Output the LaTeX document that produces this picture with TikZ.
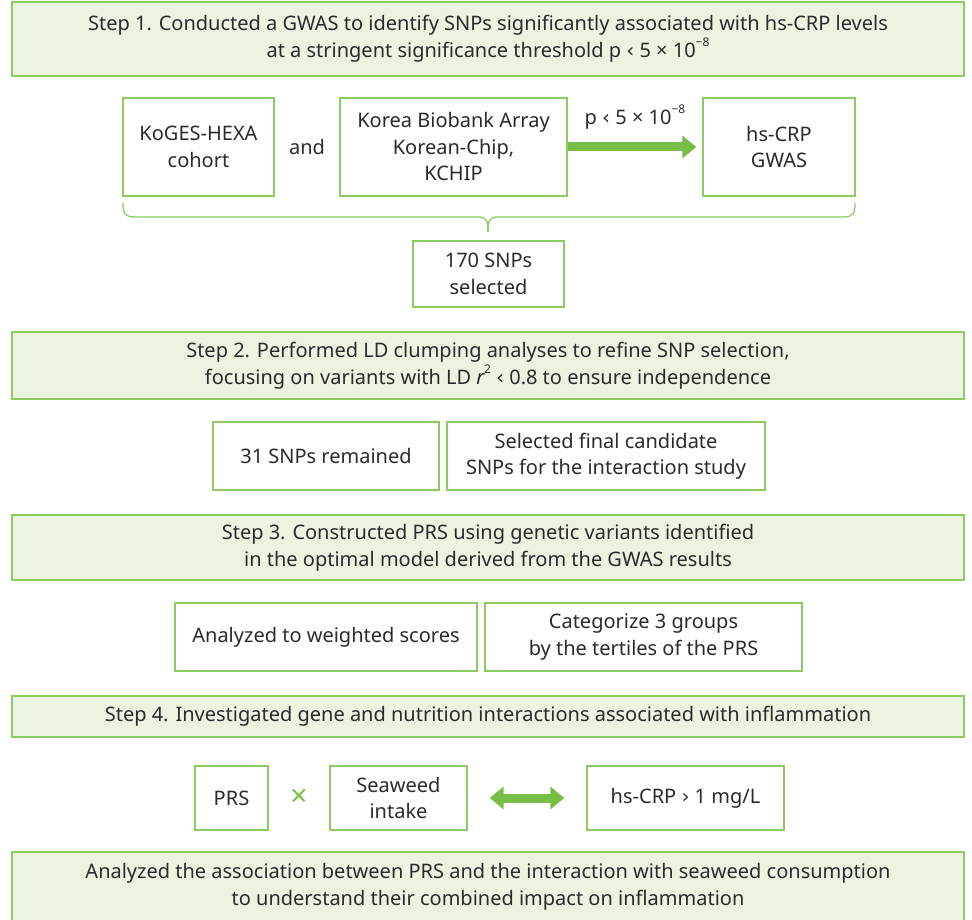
\documentclass[tikz,border=0pt]{standalone}
\usepackage{fontspec}
\setmainfont{Noto Sans}
\newfontfamily\symfont{DejaVu Sans}
\usetikzlibrary{arrows.meta}
\definecolor{bgreen}{HTML}{8DCB62}
\definecolor{agreen}{HTML}{78BE46}
\definecolor{fgreen}{HTML}{EAF4E1}
\definecolor{txt}{HTML}{2B2B2B}
\newcommand{\lessmark}{{\symfont\fontsize{20}{20}\selectfont ‹}}
\newcommand{\moremark}{{\symfont\fontsize{20}{20}\selectfont ›}}
\newcommand{\supx}[1]{\raisebox{0.55em}{\fontsize{12}{12}\selectfont #1}}
\tikzset{
  box/.style={draw=bgreen, line width=1.3pt, fill=white, text=txt, align=center, inner sep=0pt},
  stepbox/.style={draw=bgreen, line width=1.3pt, fill=fgreen, text=txt, align=center, inner sep=0pt, minimum width=952pt},
  fat/.style={draw=agreen, line width=9pt},
}
\begin{document}
\begin{tikzpicture}[x=1pt,y=-1pt,font=\fontsize{20}{26.5}\selectfont]
\useasboundingbox (0,0) rectangle (972,920);
\node[stepbox, minimum height=74pt] (s1) at (488,39) {Step 1. Conducted a GWAS to identify SNPs significantly associated with hs-CRP levels\\at a stringent significance threshold p \lessmark{} 5 × 10\supx{−8}};
\node[box, minimum width=151pt, minimum height=98pt] (kog) at (198.5,147) {KoGES-HEXA\\cohort};
\node[text=txt] (and) at (307,147) {and};
\node[box, minimum width=227pt, minimum height=98pt] (kba) at (453.5,147) {Korea Biobank Array\\Korean-Chip,\\KCHIP};
\node[box, minimum width=152pt, minimum height=98pt] (gwas) at (779,147) {hs-CRP\\GWAS};
\draw[fat, -{Triangle[length=14pt,width=22pt]}, shorten >=6pt] (kba.east) -- (gwas.west) node[midway, above=10pt, text=txt] (pl) {p \lessmark{} 5 × 10\supx{−8}};
\coordinate (bl) at (123,203);
\coordinate (br) at (855,203);
\coordinate (bt) at (488,232);
\draw[draw=bgreen, line width=1.3pt] (bl) .. controls (123,214) and (125,217) .. (135,217) -- (478,217) .. controls (486,217) and (488,220) .. (bt);
\draw[draw=bgreen, line width=1.3pt] (br) .. controls (855,214) and (853,217) .. (843,217) -- (498,217) .. controls (490,217) and (488,220) .. (bt);
\node[box, minimum width=151pt, minimum height=66pt] (snp170) at (488.5,274) {170 SNPs\\selected};
\node[stepbox, minimum height=67pt] (s2) at (488,365.5) {Step 2. Performed LD clumping analyses to refine SNP selection,\\focusing on variants with LD \textit{r}\kern-1pt\supx{2} \lessmark{} 0.8 to ensure independence};
\node[box, minimum width=226pt, minimum height=68pt] (snp31) at (326,456) {31 SNPs remained};
\node[box, minimum width=318pt, minimum height=68pt] (sel) at (606,456) {Selected final candidate\\SNPs for the interaction study};
\node[stepbox, minimum height=65pt] (s3) at (488,547.5) {Step 3. Constructed PRS using genetic variants identified\\in the optimal model derived from the GWAS results};
\node[box, minimum width=302pt, minimum height=68pt] (ws) at (326,637) {Analyzed to weighted scores};
\node[box, minimum width=317pt, minimum height=68pt] (cat) at (643.5,637) {Categorize 3 groups\\by the tertiles of the PRS};
\node[stepbox, minimum height=41pt] (s4) at (488,716.5) {Step 4. Investigated gene and nutrition interactions associated with inflammation};
\node[box, minimum width=73pt, minimum height=64pt] (prs) at (231.5,798) {PRS};
\node[text=agreen, font=\fontsize{30}{30}\selectfont] (x) at (299,798) {×};
\node[box, minimum width=137pt, minimum height=64pt] (sea) at (398.5,798) {Seaweed\\intake};
\node[box, minimum width=197pt, minimum height=64pt] (crp) at (685.5,798) {hs-CRP \moremark{} 1 mg/L};
\draw[fat, {Triangle[length=14pt,width=22pt]}-{Triangle[length=14pt,width=22pt]}, shorten >=22pt, shorten <=22pt] (sea.east) -- (crp.west);
\node[stepbox, minimum height=70pt] (s5) at (488,887) {Analyzed the association between PRS and the interaction with seaweed consumption\\to understand their combined impact on inflammation};
\end{tikzpicture}
\end{document}
